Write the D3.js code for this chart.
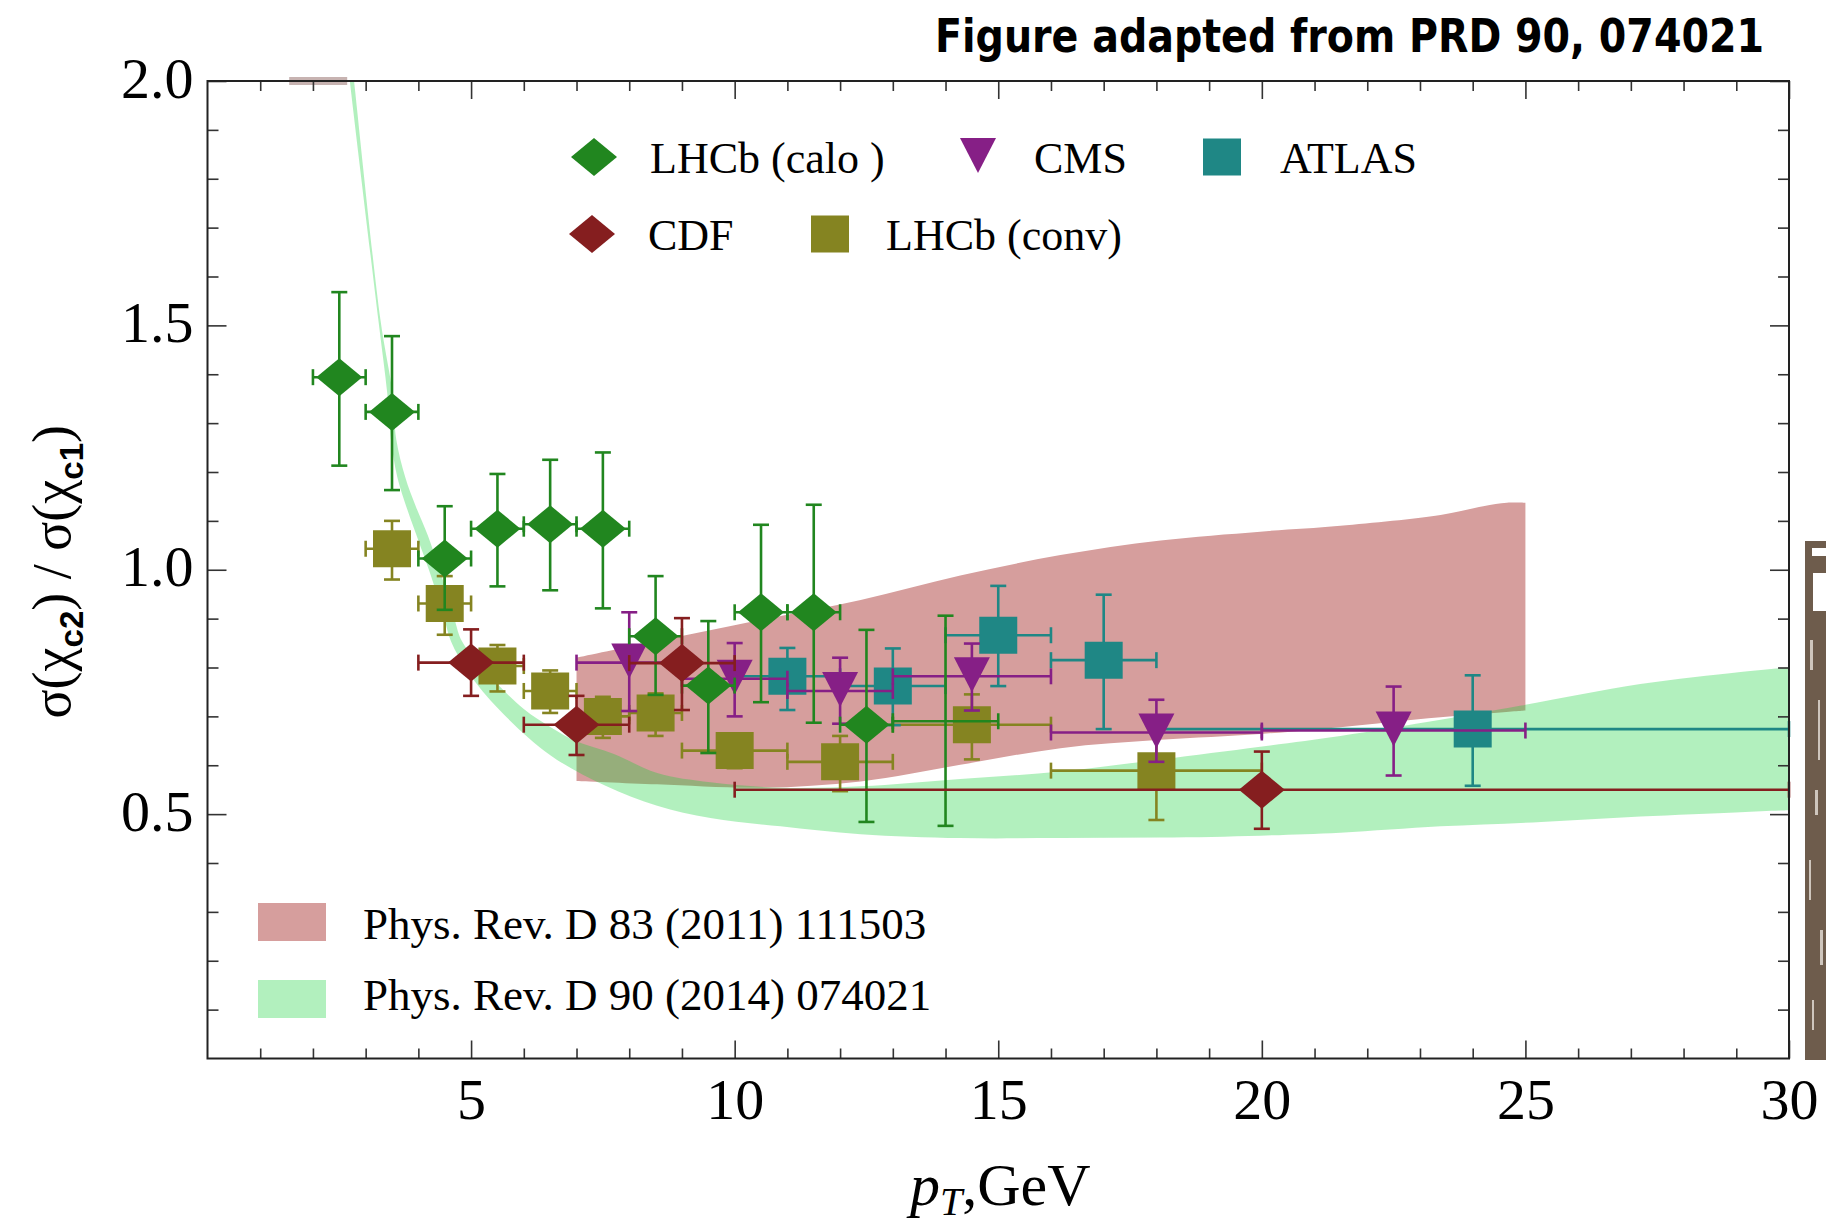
<!DOCTYPE html>
<html><head><meta charset="utf-8">
<script src="https://cdn.jsdelivr.net/npm/d3@7"></script>
<style>html,body{margin:0;padding:0;background:#fff;} svg{display:block}</style>
</head><body>
<svg id="c" width="1826" height="1227"></svg>
<script>
// ---------------- data ----------------
const xMajorTicks = [5, 10, 15, 20, 25, 30];
const xTickLabels = ["5", "10", "15", "20", "25", "30"];
const yMajorTicks = [0.5, 1.0, 1.5, 2.0];
const yTickLabels = ["0.5", "1.0", "1.5", "2.0"];

// x, y, x-err low/high, y-err low/high
const lhcbCalo = [
  {x:2.5,  y:1.394, xl:0.5, xh:0.5, yl:0.181, yh:0.174},
  {x:3.5,  y:1.323, xl:0.5, xh:0.5, yl:0.160, yh:0.155},
  {x:4.5,  y:1.023, xl:0.5, xh:0.5, yl:0.105, yh:0.107},
  {x:5.5,  y:1.084, xl:0.5, xh:0.5, yl:0.118, yh:0.112},
  {x:6.5,  y:1.093, xl:0.5, xh:0.5, yl:0.135, yh:0.132},
  {x:7.5,  y:1.084, xl:0.5, xh:0.5, yl:0.163, yh:0.156},
  {x:8.5,  y:0.864, xl:0.5, xh:0.5, yl:0.120, yh:0.123},
  {x:9.5,  y:0.763, xl:0.5, xh:0.5, yl:0.138, yh:0.132},
  {x:10.5, y:0.913, xl:0.5, xh:0.5, yl:0.184, yh:0.179},
  {x:11.5, y:0.913, xl:0.5, xh:0.5, yl:0.226, yh:0.220},
  {x:12.5, y:0.683, xl:0.5, xh:0.5, yl:0.199, yh:0.194},
  {x:14.0, y:0.690, xl:1.0, xh:1.0, yl:0.214, yh:0.216, noMarker:true}
];
const cdf = [
  {x:5,  y:0.810, xl:1,  xh:1,  yl:0.068, yh:0.068},
  {x:7,  y:0.683, xl:1,  xh:1,  yl:0.062, yh:0.059},
  {x:9,  y:0.809, xl:1,  xh:1,  yl:0.096, yh:0.092},
  {x:20, y:0.550, xl:10, xh:10, yl:0.080, yh:0.078}
];
const cms = [
  {x:8,    y:0.810, xl:1,   xh:1,   yl:0.099, yh:0.103},
  {x:10,   y:0.777, xl:1,   xh:1,   yl:0.077, yh:0.073},
  {x:12,   y:0.752, xl:1,   xh:1,   yl:0.067, yh:0.068},
  {x:14.5, y:0.782, xl:1.5, xh:1.5, yl:0.070, yh:0.067},
  {x:18,   y:0.667, xl:2,   xh:2,   yl:0.060, yh:0.067},
  {x:22.5, y:0.671, xl:2.5, xh:2.5, yl:0.092, yh:0.090}
];
const atlas = [
  {x:11, y:0.782, xl:1, xh:1, yl:0.069, yh:0.058},
  {x:13, y:0.762, xl:1, xh:1, yl:0.080, yh:0.077},
  {x:15, y:0.866, xl:1, xh:1, yl:0.104, yh:0.101},
  {x:17, y:0.815, xl:1, xh:1, yl:0.141, yh:0.134},
  {x:24, y:0.674, xl:6, xh:6, yl:0.116, yh:0.110}
];
const lhcbConv = [
  {x:3.5,  y:1.043, xl:0.5, xh:0.5, yl:0.063, yh:0.057},
  {x:4.5,  y:0.931, xl:0.5, xh:0.5, yl:0.064, yh:0.056},
  {x:5.5,  y:0.803, xl:0.5, xh:0.5, yl:0.052, yh:0.043},
  {x:6.5,  y:0.752, xl:0.5, xh:0.5, yl:0.045, yh:0.042},
  {x:7.5,  y:0.700, xl:0.5, xh:0.5, yl:0.044, yh:0.040},
  {x:8.5,  y:0.707, xl:0.5, xh:0.5, yl:0.047, yh:0.040},
  {x:10,   y:0.630, xl:1,   xh:1,   yl:0.036, yh:0.035},
  {x:12,   y:0.607, xl:1,   xh:1,   yl:0.060, yh:0.053},
  {x:14.5, y:0.683, xl:1.5, xh:1.5, yl:0.071, yh:0.062},
  {x:18,   y:0.589, xl:2,   xh:2,   yl:0.101, yh:0.091}
];

// theory bands: [pT, ratio]
const prd83Upper = [[7.0,0.820],[8.34,0.850],[10.49,0.897],[12.39,0.938],[14.28,0.988],[16.18,1.030],[18.08,1.060],[19.97,1.078],[21.49,1.090],[23.39,1.112],[24.2,1.130],[24.65,1.137],[25.0,1.137]];
const prd83Lower = [[7.0,0.568],[8.53,0.561],[10.49,0.554],[12.39,0.567],[14.28,0.601],[16.18,0.635],[18.08,0.652],[19.97,0.664],[21.49,0.678],[23.39,0.698],[25.0,0.712]];
const prd90Lower = [[2.62,2.08],[2.70,2.00],[3.24,1.512],[3.41,1.361],[3.48,1.267],[3.60,1.19],[3.80,1.12],[4.0,1.06],[4.2,1.00],[4.35,0.95],[4.5,0.897],[4.62,0.853],[4.95,0.790],[5.53,0.714],[6.51,0.620],[7.55,0.558],[8.53,0.517],[9.54,0.492],[10.87,0.475],[12.39,0.459],[14.28,0.451],[16.18,0.451],[18.08,0.452],[19.97,0.456],[21.49,0.462],[23.39,0.475],[25.3,0.484],[27.18,0.495],[29.08,0.504],[30,0.508]];
const prd90Upper = [[2.70,2.08],[2.78,2.00],[3.28,1.512],[3.51,1.361],[3.58,1.267],[3.75,1.19],[3.95,1.13],[4.18,1.07],[4.40,1.00],[4.55,0.95],[4.69,0.897],[4.83,0.853],[5.37,0.781],[6.0,0.715],[6.51,0.678],[7.0,0.649],[7.71,0.623],[8.53,0.584],[9.54,0.565],[10.87,0.554],[12.39,0.557],[14.28,0.572],[16.18,0.587],[18.08,0.612],[19.97,0.638],[21.49,0.660],[23.39,0.693],[24.92,0.722],[27.18,0.766],[29.08,0.791],[30,0.800]];
const topClipSegment = [[1.55, 2.0],[2.65, 2.0]];

const seriesNames = ["LHCb (calo )", "CMS", "ATLAS", "CDF", "LHCb (conv)"];
const bandNames = ["Phys. Rev. D 83 (2011) 111503", "Phys. Rev. D 90 (2014) 074021"];

// ---------------- drawing ----------------
const svg = d3.select("#c");
const L = 207.5, R = 1789, T = 81, B = 1058.5;
const x = d3.scaleLinear().domain([0, 30]).range([L, R]);
const y = d3.scaleLinear().domain([0, 2]).range([B, T]);

const COL = {calo:"#21861f", cdf:"#851e1f", cms:"#861f86", atlas:"#1f8785", conv:"#858421"};
const PINK = "#d69e9d", GREEN = "rgb(14,208,52)", GREEN_OP = 0.32;
const SERIF = "'Liberation Serif','Times New Roman',serif";

svg.append("rect").attr("width",1826).attr("height",1227).attr("fill","#fff");

// scanned strip artefact at right edge
const strip = svg.append("g");
strip.append("rect").attr("x",1805).attr("y",541).attr("width",21).attr("height",519).attr("fill","#6e5c4c");
strip.append("rect").attr("x",1812).attr("y",548).attr("width",14).attr("height",8).attr("fill","#fff");
strip.append("rect").attr("x",1813).attr("y",573).attr("width",13).attr("height",38).attr("fill","#fff");
[[1810,640,3,30],[1818,700,2,60],[1815,790,3,25],[1809,860,2,40],[1820,930,3,35],[1812,1000,2,30]].forEach(r=>{
  strip.append("rect").attr("x",r[0]).attr("y",r[1]).attr("width",r[2]).attr("height",r[3]).attr("fill","#cfc6bd");
});

const defs = svg.append("defs");
defs.append("clipPath").attr("id","plotclip").append("rect")
  .attr("x",L).attr("y",T).attr("width",R-L).attr("height",B-T);

const plot = svg.append("g").attr("clip-path","url(#plotclip)");
const edge = d3.line().x(d=>x(d[0])).y(d=>y(d[1])).curve(d3.curveCatmullRom.alpha(0.5));
function bandPath(lower, upper) {
  return edge(lower) + edge(upper.slice().reverse()).replace(/^M/, "L") + "Z";
}

plot.append("path").attr("d", bandPath(prd83Lower, prd83Upper)).attr("fill", PINK);
plot.append("path").attr("d", bandPath(prd90Lower, prd90Upper))
  .attr("fill", GREEN).attr("fill-opacity", GREEN_OP);

// grey-pink segment clipped at top
svg.append("line").attr("x1",x(topClipSegment[0][0])).attr("x2",x(topClipSegment[1][0]))
  .attr("y1",y(topClipSegment[0][1])).attr("y2",y(topClipSegment[1][1]))
  .attr("stroke","#c7b3b1").attr("stroke-width",8);

// marker shapes
const shapes = {
  diamond: "M0,-19L23,0L0,19L-23,0Z",
  square: "M-19,-18.5L19,-18.5L19,18.5L-19,18.5Z",
  tri: "M-18,-19L18,-19L0,16Z"
};

function drawSeries(data, color, shape) {
  const g = svg.append("g");
  const cap = 8;
  data.forEach(d => {
    const cx = x(d.x), cy = y(d.y);
    const x0 = x(d.x - d.xl), x1 = x(d.x + d.xh);
    const y0 = y(d.y - d.yl), y1 = y(d.y + d.yh);
    const eg = g.append("g").attr("stroke", color).attr("stroke-width", 2.6).attr("fill","none");
    eg.append("line").attr("x1",x0).attr("x2",x1).attr("y1",cy).attr("y2",cy);
    eg.append("line").attr("x1",x0).attr("x2",x0).attr("y1",cy-cap).attr("y2",cy+cap);
    eg.append("line").attr("x1",x1).attr("x2",x1).attr("y1",cy-cap).attr("y2",cy+cap);
    eg.append("line").attr("x1",cx).attr("x2",cx).attr("y1",y0).attr("y2",y1);
    eg.append("line").attr("x1",cx-cap).attr("x2",cx+cap).attr("y1",y0).attr("y2",y0);
    eg.append("line").attr("x1",cx-cap).attr("x2",cx+cap).attr("y1",y1).attr("y2",y1);
    if (!d.noMarker) {
      g.append("path").attr("d", shapes[shape]).attr("transform",`translate(${cx},${cy})`)
        .attr("fill", color);
    }
  });
}
drawSeries(lhcbConv, COL.conv, "square");
drawSeries(atlas, COL.atlas, "square");
drawSeries(cms, COL.cms, "tri");
drawSeries(lhcbCalo, COL.calo, "diamond");
drawSeries(cdf, COL.cdf, "diamond");

// ---------------- axes ----------------
const xMinor = d3.range(1, 30).filter(v => v % 5 !== 0);
const yMinor = d3.range(1, 20).map(v => v / 10).filter(v => Math.round(v*10) % 5 !== 0);
const axisColor = "#333";

function styleAxis(g) {
  g.select(".domain").remove();
  g.selectAll(".tick line").attr("stroke", axisColor).attr("stroke-width", 1.6);
}
// bottom
svg.append("g").attr("transform",`translate(0,${B})`)
  .call(d3.axisBottom(x).tickValues(xMinor).tickSize(-10).tickFormat("")).call(styleAxis);
const bx = svg.append("g").attr("transform",`translate(0,${B})`)
  .call(d3.axisBottom(x).tickValues(xMajorTicks).tickSize(-18).tickFormat((d,i)=>xTickLabels[i])).call(styleAxis);
bx.selectAll("text").attr("y", 60).attr("dy", 0).attr("font-family", SERIF).attr("font-size", 58).attr("fill","#000");
// top
svg.append("g").attr("transform",`translate(0,${T})`)
  .call(d3.axisTop(x).tickValues(xMinor).tickSize(-10).tickFormat("")).call(styleAxis);
svg.append("g").attr("transform",`translate(0,${T})`)
  .call(d3.axisTop(x).tickValues(xMajorTicks).tickSize(-18).tickFormat("")).call(styleAxis);
// left
svg.append("g").attr("transform",`translate(${L},0)`)
  .call(d3.axisLeft(y).tickValues(yMinor).tickSize(-11).tickFormat("")).call(styleAxis);
const ly = svg.append("g").attr("transform",`translate(${L},0)`)
  .call(d3.axisLeft(y).tickValues(yMajorTicks).tickSize(-19).tickFormat((d,i)=>yTickLabels[i])).call(styleAxis);
ly.selectAll("text").attr("x", -14).attr("dy", 16).attr("font-family", SERIF).attr("font-size", 58).attr("fill","#000");
// right
svg.append("g").attr("transform",`translate(${R},0)`)
  .call(d3.axisRight(y).tickValues(yMinor).tickSize(-11).tickFormat("")).call(styleAxis);
svg.append("g").attr("transform",`translate(${R},0)`)
  .call(d3.axisRight(y).tickValues(yMajorTicks).tickSize(-19).tickFormat("")).call(styleAxis);

// frame
svg.append("rect").attr("x",L).attr("y",T).attr("width",R-L).attr("height",B-T)
  .attr("fill","none").attr("stroke","#222").attr("stroke-width",2);

// axis titles
const xt = svg.append("text").attr("x", (L+R)/2 + 2).attr("y", 1205).attr("text-anchor","middle")
  .attr("font-family", SERIF).attr("font-size", 60).attr("fill","#000");
xt.append("tspan").attr("font-style","italic").text("p");
xt.append("tspan").attr("font-style","italic").attr("font-size",40).attr("dy",10).text("T");
xt.append("tspan").attr("dy",-10).text(",GeV");

const yt = svg.append("text").attr("transform",`translate(70,${(T+B)/2 + 2}) rotate(-90)`)
  .attr("text-anchor","middle").attr("font-family", SERIF).attr("font-size", 54).attr("fill","#000");
yt.append("tspan").text("σ(χ");
yt.append("tspan").attr("font-family","'Liberation Sans',Arial,sans-serif").attr("font-weight","bold").attr("font-size",33).attr("dy",13).text("c2");
yt.append("tspan").attr("dy",-13).text(") / σ(χ");
yt.append("tspan").attr("font-family","'Liberation Sans',Arial,sans-serif").attr("font-weight","bold").attr("font-size",33).attr("dy",13).text("c1");
yt.append("tspan").attr("dy",-13).text(")");

// title
svg.append("text").attr("x", 1764).attr("y", 52).attr("text-anchor","end")
  .attr("font-family","'DejaVu Sans Condensed','DejaVu Sans',sans-serif").attr("font-weight","bold")
  .attr("font-size", 46).attr("textLength", 829).attr("lengthAdjust","spacingAndGlyphs")
  .attr("fill","#000").text("Figure adapted from PRD 90, 074021");

// ---------------- legends ----------------
const legendItems = [
  {name: seriesNames[0], shape:"diamond", color:COL.calo,  mx:594, my:157, tx:650, ty:173},
  {name: seriesNames[1], shape:"tri",     color:COL.cms,   mx:978, my:157, tx:1034, ty:173},
  {name: seriesNames[2], shape:"square",  color:COL.atlas, mx:1222, my:157, tx:1280, ty:173},
  {name: seriesNames[3], shape:"diamond", color:COL.cdf,   mx:592, my:234, tx:648, ty:250},
  {name: seriesNames[4], shape:"square",  color:COL.conv,  mx:830, my:234, tx:886, ty:250}
];
legendItems.forEach(it => {
  svg.append("path").attr("d", shapes[it.shape]).attr("transform",`translate(${it.mx},${it.my})`).attr("fill", it.color);
  svg.append("text").attr("x", it.tx).attr("y", it.ty).attr("font-family", SERIF).attr("font-size", 44)
    .attr("fill","#000").text(it.name);
});

const bandLegend = [
  {name: bandNames[0], fill: PINK, op: 1, ry: 903, ty: 939},
  {name: bandNames[1], fill: GREEN, op: GREEN_OP, ry: 980, ty: 1010}
];
bandLegend.forEach(b => {
  svg.append("rect").attr("x", 258).attr("y", b.ry).attr("width", 68).attr("height", 38)
    .attr("fill", b.fill).attr("fill-opacity", b.op);
  svg.append("text").attr("x", 363).attr("y", b.ty).attr("font-family", SERIF).attr("font-size", 45)
    .attr("fill","#000").text(b.name);
});
</script>
</body></html>
